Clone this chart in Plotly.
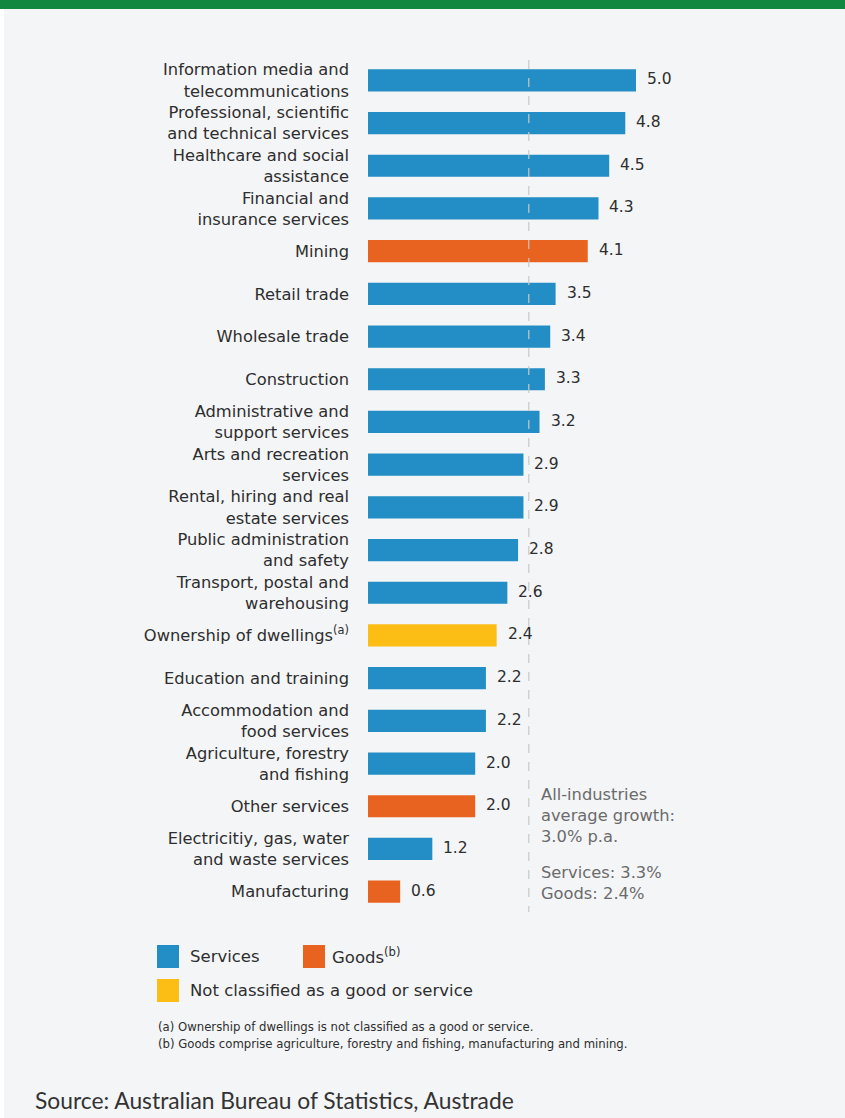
import plotly.graph_objects as go

categories = [
    "Information media and<br>telecommunications",
    "Professional, scientific<br>and technical services",
    "Healthcare and social<br>assistance",
    "Financial and<br>insurance services",
    "Mining",
    "Retail trade",
    "Wholesale trade",
    "Construction",
    "Administrative and<br>support services",
    "Arts and recreation<br>services",
    "Rental, hiring and real<br>estate services",
    "Public administration<br>and safety",
    "Transport, postal and<br>warehousing",
    "Ownership of dwellings<sup>(a)</sup>",
    "Education and training",
    "Accommodation and<br>food services",
    "Agriculture, forestry<br>and fishing",
    "Other services",
    "Electricitiy, gas, water<br>and waste services",
    "Manufacturing",
]
values = [5.0, 4.8, 4.5, 4.3, 4.1, 3.5, 3.4, 3.3, 3.2, 2.9, 2.9, 2.8, 2.6, 2.4, 2.2, 2.2, 2.0, 2.0, 1.2, 0.6]
groups = ["S", "S", "S", "S", "G", "S", "S", "S", "S", "S", "S", "S", "S", "N", "S", "S", "S", "G", "S", "G"]
average_growth = 3.0

BLUE = "#228ec5"
ORANGE = "#e8631f"
YELLOW = "#fcbd14"
color_map = {"S": BLUE, "G": ORANGE, "N": YELLOW}
TXT = "#2e2e2e"
FONT = "DejaVu Sans"

W, H = 845, 1118
ML, MR, MT, MB = 368, 177, 59, 205
PW = W - ML - MR
PH = H - MT - MB


def px(x):
    return (x - ML) / PW


def py(y):
    return (H - MB - y) / PH


fig = go.Figure()
fig.add_trace(go.Bar(
    x=values, y=categories, orientation="h",
    marker=dict(color=[color_map[g] for g in groups], line=dict(width=0)),
    showlegend=False, hoverinfo="x+y",
))

# value labels
for c, v in zip(categories, values):
    fig.add_annotation(x=v, y=c, text=f"{v:.1f}", showarrow=False, xanchor="left",
                       xshift=9, yshift=1, font=dict(family=FONT, size=15.5, color=TXT))

shapes = []
shapes.append(dict(type="line", xref="x", yref="paper", x0=average_growth, x1=average_growth,
                   y0=py(60), y1=py(912), line=dict(color="#c9c9c9", width=1.2, dash="dash")))
shapes.append(dict(type="rect", xref="paper", yref="paper", x0=px(0), x1=px(W), y0=py(0), y1=py(9),
                   fillcolor="#12873f", line=dict(width=0), layer="above"))
shapes.append(dict(type="rect", xref="paper", yref="paper", x0=px(0), x1=px(4), y0=py(9), y1=py(H),
                   fillcolor="#ffffff", line=dict(width=0)))
shapes.append(dict(type="rect", xref="paper", yref="paper", x0=px(157), x1=px(179), y0=py(945), y1=py(968),
                   fillcolor=BLUE, line=dict(width=0)))
shapes.append(dict(type="rect", xref="paper", yref="paper", x0=px(303), x1=px(325), y0=py(945), y1=py(968),
                   fillcolor=ORANGE, line=dict(width=0)))
shapes.append(dict(type="rect", xref="paper", yref="paper", x0=px(157), x1=px(179), y0=py(979), y1=py(1002),
                   fillcolor=YELLOW, line=dict(width=0)))

annos = [
    dict(x=px(188), y=py(956), text="Services", size=16.5, color=TXT, family=FONT),
    dict(x=px(330), y=py(956), text="Goods<sup>(b)</sup>", size=16.5, color=TXT, family=FONT),
    dict(x=px(188), y=py(990), text="Not classified as a good or service", size=16.5, color=TXT, family=FONT),
    dict(x=px(156), y=py(1027), text="(a) Ownership of dwellings is not classified as a good or service.", size=11.7, color=TXT, family=FONT),
    dict(x=px(156), y=py(1044), text="(b) Goods comprise agriculture, forestry and fishing, manufacturing and mining.", size=11.7, color=TXT, family=FONT),
    dict(x=px(33), y=py(1100), text="Source: Australian Bureau of Statistics, Austrade", size=22.8, color="#333333", family="Lato"),
]
for a in annos:
    fig.add_annotation(x=a["x"], y=a["y"], xref="paper", yref="paper", text=a["text"], showarrow=False,
                       xanchor="left", yanchor="middle",
                       font=dict(family=a["family"], size=a["size"], color=a["color"]))

fig.add_annotation(x=px(539), y=py(783), xref="paper", yref="paper", xanchor="left", yanchor="top",
                   align="left", showarrow=False,
                   text="All-industries<br>average growth:<br>3.0% p.a.",
                   font=dict(family=FONT, size=16.3, color="#6b6b6b"))
fig.add_annotation(x=px(539), y=py(861), xref="paper", yref="paper", xanchor="left", yanchor="top",
                   align="left", showarrow=False,
                   text="Services: 3.3%<br>Goods: 2.4%",
                   font=dict(family=FONT, size=16.3, color="#6b6b6b"))

fig.update_layout(
    width=W, height=H,
    margin=dict(l=ML, r=MR, t=MT, b=MB, pad=0),
    paper_bgcolor="#f4f5f7", plot_bgcolor="rgba(0,0,0,0)",
    bargap=0.48,
    shapes=shapes,
    xaxis=dict(range=[0, PW / 53.6], visible=False, fixedrange=True),
    yaxis=dict(autorange="reversed", showgrid=False, zeroline=False, showline=False, ticks="",
               ticklabelstandoff=18,
               tickfont=dict(family=FONT, size=16.3, color=TXT)),
    font=dict(family=FONT),
)

fig.write_html("out.html")
